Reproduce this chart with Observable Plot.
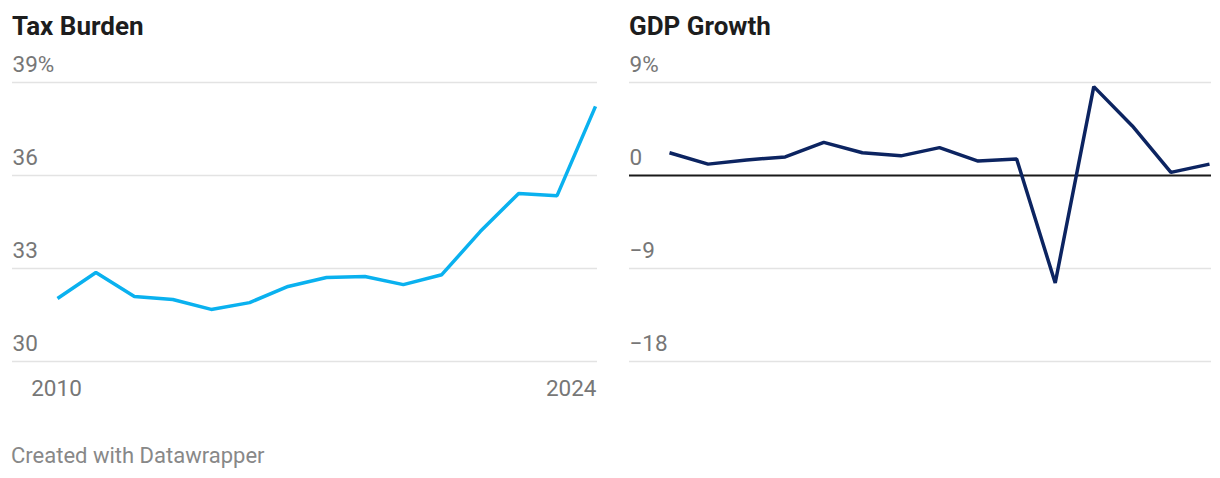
<!DOCTYPE html>
<html>
<head>
<meta charset="utf-8">
<script src="https://cdn.jsdelivr.net/npm/d3@7"></script>
<script src="https://cdn.jsdelivr.net/npm/@observablehq/plot@0.6"></script>
<style>
  html, body { margin: 0; padding: 0; background: #fff; }
  body { width: 1220px; height: 478px; position: relative; overflow: hidden; font-family: Roboto, sans-serif; }
  .title { position: absolute; top: 13px; font-size: 26px; font-weight: 700; line-height: 1; color: #1d1d1d; }
  .panel { position: absolute; top: 50px; }
  .footer { position: absolute; left: 11px; top: 445px; font-size: 22px; line-height: 1; color: #888; }
</style>
</head>
<body>
<div class="title" style="left:12px">Tax Burden</div>
<div class="title" style="left:629px">GDP Growth</div>
<div class="panel" id="left" style="left:0px"></div>
<div class="panel" id="right" style="left:610px"></div>
<div class="footer">Created with Datawrapper</div>
<script>
const years = [2010, 2011, 2012, 2013, 2014, 2015, 2016, 2017, 2018, 2019, 2020, 2021, 2022, 2023, 2024];
const taxBurden = [32.03, 32.87, 32.1, 32.0, 31.68, 31.9, 32.42, 32.71, 32.74, 32.48, 32.8, 34.19, 35.42, 35.35, 38.23];
const gdpGrowth = [2.2, 1.1, 1.5, 1.8, 3.2, 2.2, 1.9, 2.7, 1.4, 1.6, -10.4, 8.6, 4.8, 0.3, 1.1];
const taxTicks = [30, 33, 36, 39];
const gdpTicks = [-18, -9, 0, 9];
const xLabelYears = [2010, 2024];

const taxData = years.map((year, i) => ({year, value: taxBurden[i]}));
const gdpData = years.map((year, i) => ({year, value: gdpGrowth[i]}));

const tickFmt = (ticks) => (d) => {
  const s = d < 0 ? "\u2212" + Math.abs(d) : String(d);
  return d === d3.max(ticks) ? s + "%" : s;
};

const common = {
  width: 610,
  height: 350,
  marginTop: 32,
  marginBottom: 39,
  style: {fontFamily: "Roboto, sans-serif", fontSize: "22.5px", background: "transparent", overflow: "visible"}
};

const leftPlot = Plot.plot({
  ...common,
  marginLeft: 12,
  marginRight: 13,
  x: {domain: [2010, 2024], insetLeft: 45, insetRight: 2, axis: null},
  y: {domain: [30, 39], axis: null},
  marks: [
    Plot.ruleY(taxTicks, {stroke: "#e3e3e3", strokeWidth: 1.5}),
    Plot.text(taxTicks, {y: d => d, text: tickFmt(taxTicks), frameAnchor: "left", textAnchor: "start", lineAnchor: "middle", dy: -18, fill: "#777", fontSize: 22.5}),
    Plot.line(taxData, {x: "year", y: "value", stroke: "#0ab1ef", strokeWidth: 3.5, strokeLinejoin: "miter", strokeLinecap: "butt"}),
    Plot.text(xLabelYears.slice(0, 1), {x: d => d, text: d => String(d), frameAnchor: "bottom", lineAnchor: "middle", dy: 27, textAnchor: "middle", dx: -1, fill: "#777", fontSize: 22.5}),
    Plot.text(xLabelYears.slice(1), {x: d => d, text: d => String(d), frameAnchor: "bottom", lineAnchor: "middle", dy: 27, textAnchor: "end", dx: 1, fill: "#777", fontSize: 22.5})
  ]
});

const rightPlot = Plot.plot({
  ...common,
  marginLeft: 19,
  marginRight: 9,
  x: {domain: [2010, 2024], insetLeft: 40, insetRight: 2, axis: null},
  y: {domain: [-18, 9], axis: null},
  marks: [
    Plot.ruleY(gdpTicks.filter(d => d !== 0), {stroke: "#e3e3e3", strokeWidth: 1.5}),
    Plot.ruleY([0], {stroke: "#1a1a1a", strokeWidth: 2}),
    Plot.text(gdpTicks, {y: d => d, text: tickFmt(gdpTicks), frameAnchor: "left", textAnchor: "start", lineAnchor: "middle", dy: -18, fill: "#777", fontSize: 22.5}),
    Plot.line(gdpData, {x: "year", y: "value", stroke: "#0c2461", strokeWidth: 3.5, strokeLinejoin: "miter", strokeLinecap: "butt"})
  ]
});

document.getElementById("left").appendChild(leftPlot);
document.getElementById("right").appendChild(rightPlot);
</script>
</body>
</html>
